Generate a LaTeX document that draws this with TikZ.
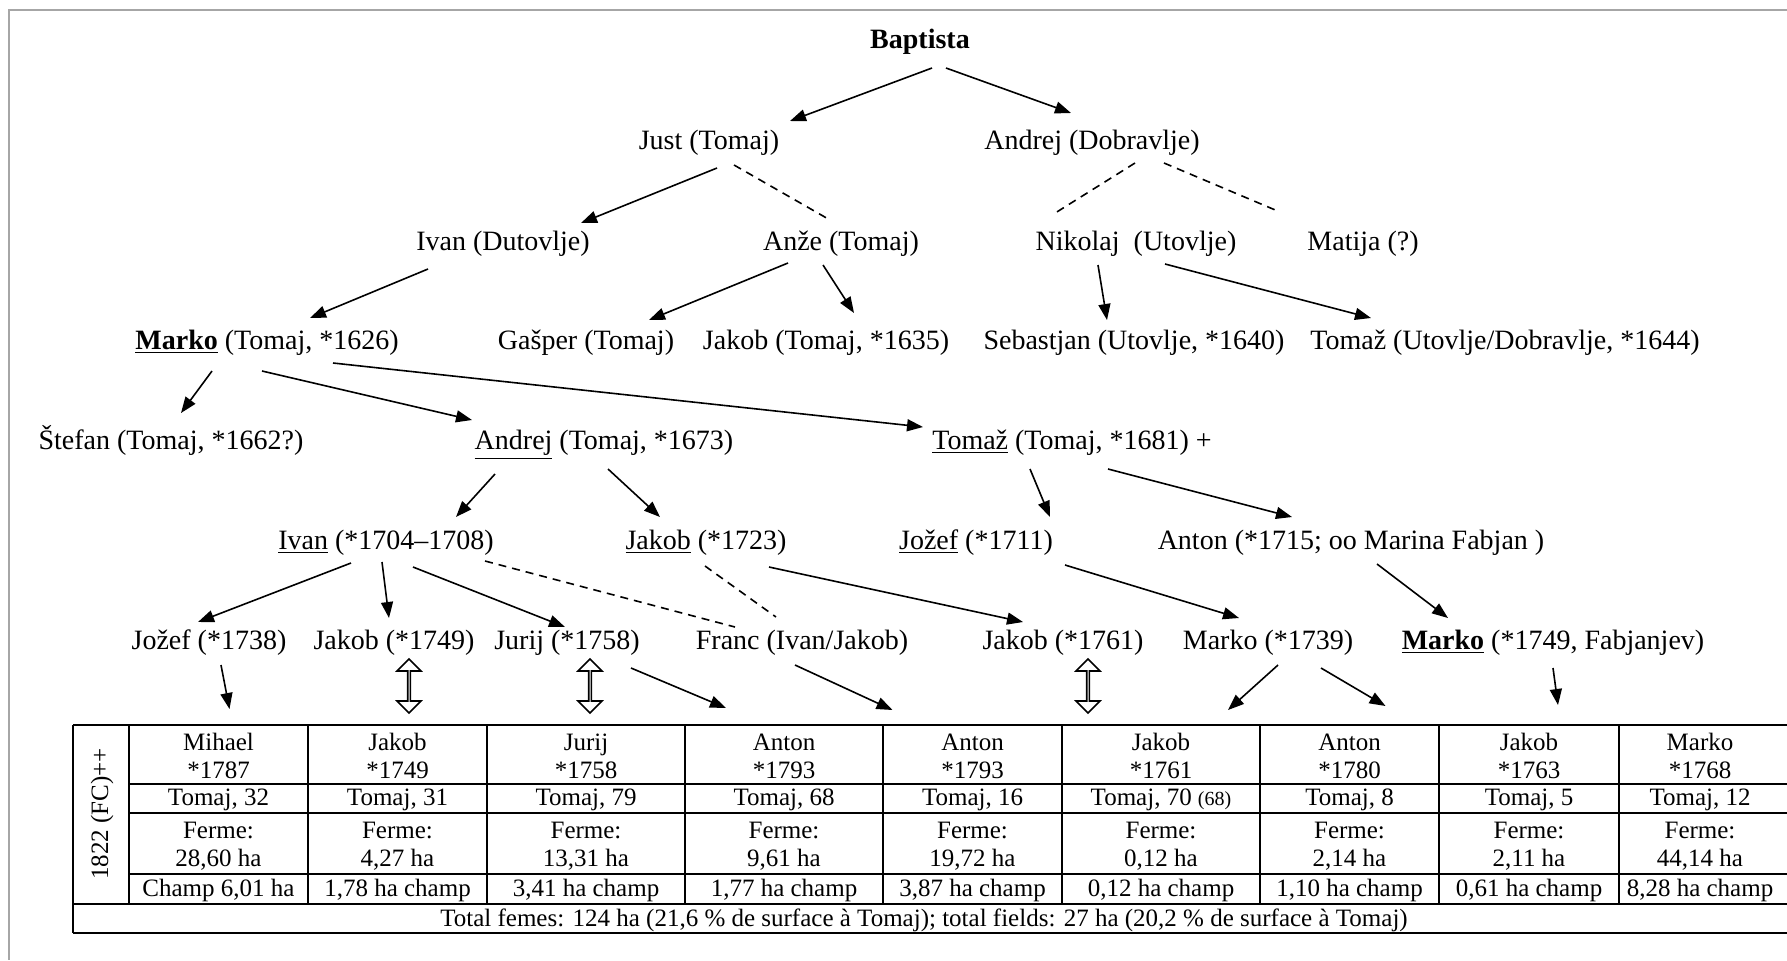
\documentclass[tikz,border=0pt]{standalone}
\usepackage{fontspec}
\setmainfont{Liberation Serif}
\usetikzlibrary{calc}
\usetikzlibrary{arrows.meta}
\usetikzlibrary{shapes.arrows}

\tikzset{
  pers/.style={inner sep=1pt, text height=2ex, text depth=.1ex, font=\fontsize{14}{16}\selectfont},
  kid/.style={-{Triangle[length=8pt,width=6pt]}, line width=0.8pt},
  maybe/.style={line width=0.8pt, dash pattern=on 4pt off 3pt},
  cell/.style={inner sep=0pt, align=center, font=\fontsize{12.5}{14}\selectfont},
  twoway/.style={draw, line width=0.8pt, double arrow, rotate=90, inner sep=0pt,
    minimum height=27pt, minimum width=12pt, double arrow head extend=3.3pt}
}

\begin{document}
\begin{tikzpicture}[x=0.5pt, y=-0.5pt]
\useasboundingbox (0,0) rectangle (1787,960);

\draw[gray!70, line width=1pt] (1787,9.5)--(9,9.5)--(9,960);

\node[pers] (bapt) at (920,40) {\textbf{Baptista}};

\node[pers] (just) at (709,141) {Just (Tomaj)};
\node[pers] (andD) at (1092,141) {Andrej (Dobravlje)};

\node[pers] (ivanD) at (503,242) {Ivan (Dutovlje)};
\node[pers] (anze) at (841,242) {Anže (Tomaj)};
\node[pers] (nikolaj) at (1136,242) {Nikolaj\ \ (Utovlje)};
\node[pers] (matija) at (1363,242) {Matija (?)};

\node[pers] (marko) at (267,341) {\textbf{\underline{Marko}} (Tomaj, *1626)};
\node[pers] (gasper) at (586,341) {Gašper (Tomaj)};
\node[pers] (jakobA) at (826,341) {Jakob (Tomaj, *1635)};
\node[pers] (sebastjan) at (1134,341) {Sebastjan (Utovlje, *1640)};
\node[pers] (tomazU) at (1505,341) {Tomaž (Utovlje/Dobravlje, *1644)};

\node[pers] (stefan) at (171,441) {Štefan (Tomaj, *1662?)};
\node[pers] (andrejT) at (604,441) {\underline{Andrej} (Tomaj, *1673)};
\node[pers] (tomazT) at (1072,441) {\underline{Tomaž} (Tomaj, *1681) +};

\node[pers] (ivanT) at (386,541) {\underline{Ivan} (*1704--1708)};
\node[pers] (jakobB) at (706,541) {\underline{Jakob} (*1723)};
\node[pers] (jozefA) at (976,541) {\underline{Jožef} (*1711)};
\node[pers] (anton) at (1351,541) {Anton (*1715; oo Marina Fabjan )};

\node[pers] (jozefB) at (209,641) {Jožef (*1738)};
\node[pers] (jakobC) at (394,641) {Jakob (*1749)};
\node[pers] (jurij) at (567,641) {Jurij (*1758)};
\node[pers] (franc) at (802,641) {Franc (Ivan/Jakob)};
\node[pers] (jakobD) at (1063,641) {Jakob (*1761)};
\node[pers] (markoB) at (1268,641) {Marko (*1739)};
\node[pers] (markoC) at (1553,641) {\textbf{\underline{Marko}} (*1749, Fabjanjev)};

\draw[kid] ($(bapt)+(12,28)$) -- ($(just)+(81,-20)$);
\draw[kid] ($(bapt)+(26,28)$) -- ($(andD)+(-21,-28)$);
\draw[kid] ($(just)+(8,27)$) -- ($(ivanD)+(78,-19)$);
\draw[maybe] ($(just)+(25,24)$) -- ($(anze)+(-11,-22)$);
\draw[maybe] ($(andD)+(43,22)$) -- ($(nikolaj)+(-84,-27)$);
\draw[maybe] ($(andD)+(72,22)$) -- ($(matija)+(-83,-30)$);

\draw[kid] ($(ivanD)+(-75,27)$) -- ($(marko)+(43,-23)$);
\draw[kid] ($(anze)+(-53,21)$) -- ($(gasper)+(63,-21)$);
\draw[kid] ($(anze)+(-18,23)$) -- ($(jakobA)+(28,-28)$);
\draw[kid] ($(nikolaj)+(-38,23)$) -- ($(sebastjan)+(-27,-21)$);
\draw[kid] ($(nikolaj)+(29,22)$) -- ($(tomazU)+(-134,-23)$);

\draw[kid] ($(marko)+(-55,30)$) -- ($(stefan)+(10,-28)$);
\draw[kid] ($(marko)+(-5,30)$) -- ($(andrejT)+(-132,-21)$);
\draw[kid] ($(marko)+(66,22)$) -- ($(tomazT)+(-149,-14)$);

\draw[kid] ($(andrejT)+(-109,33)$) -- ($(ivanT)+(70,-24)$);
\draw[kid] ($(andrejT)+(4,28)$) -- ($(jakobB)+(-46,-24)$);
\draw[kid] ($(tomazT)+(-42,28)$) -- ($(jozefA)+(74,-24)$);
\draw[kid] ($(tomazT)+(36,28)$) -- ($(anton)+(-59,-24)$);

\draw[kid] ($(ivanT)+(-35,22)$) -- ($(jozefB)+(-11,-19)$);
\draw[kid] ($(ivanT)+(-4,21)$) -- ($(jakobC)+(-5,-23)$);
\draw[kid] ($(ivanT)+(27,26)$) -- ($(jurij)+(-2,-14)$);
\draw[maybe] ($(ivanT)+(99,20)$) -- ($(franc)+(-67,-14)$);
\draw[maybe] ($(jakobB)+(-1,25)$) -- ($(franc)+(-26,-24)$);
\draw[kid] ($(jakobB)+(63,26)$) -- ($(jakobD)+(-40,-19)$);
\draw[kid] ($(jozefA)+(89,24)$) -- ($(markoB)+(-29,-23)$);
\draw[kid] ($(anton)+(26,23)$) -- ($(markoC)+(-105,-23)$);

% table 1822
\draw[line width=0.75pt] (73,725)--(1787,725);
\draw[line width=0.75pt] (129,784)--(1787,784);
\draw[line width=0.75pt] (129,813)--(1787,813);
\draw[line width=0.75pt] (129,874)--(1787,874);
\draw[line width=0.75pt] (73,904)--(1787,904);
\draw[line width=0.75pt] (73,933)--(1787,933);

\draw[line width=0.75pt] (73,725)--(73,933);
\draw[line width=0.75pt] (129,725)--(129,904);
\draw[line width=0.75pt] (308,725)--(308,904);
\draw[line width=0.75pt] (487,725)--(487,904);
\draw[line width=0.75pt] (685,725)--(685,904);
\draw[line width=0.75pt] (883,725)--(883,904);
\draw[line width=0.75pt] (1062,725)--(1062,904);
\draw[line width=0.75pt] (1260,725)--(1260,904);
\draw[line width=0.75pt] (1439,725)--(1439,904);
\draw[line width=0.75pt] (1619,725)--(1619,904);

\node[cell, rotate=90] (year) at (102,814) {1822 (FC)++};

\foreach \i/\x/\nm/\yr/\tm/\fe/\ch in {
  1/218.5/Mihael/1787/{Tomaj, 32}/{28,60 ha}/{Champ 6,01 ha},
  2/397.5/Jakob/1749/{Tomaj, 31}/{4,27 ha}/{1,78 ha champ},
  3/586/Jurij/1758/{Tomaj, 79}/{13,31 ha}/{3,41 ha champ},
  4/784/Anton/1793/{Tomaj, 68}/{9,61 ha}/{1,77 ha champ},
  5/972.5/Anton/1793/{Tomaj, 16}/{19,72 ha}/{3,87 ha champ},
  6/1161/Jakob/1761/{Tomaj, 70 {\fontsize{10}{12}\selectfont(68)}}/{0,12 ha}/{0,12 ha champ},
  7/1349.5/Anton/1780/{Tomaj, 8}/{2,14 ha}/{1,10 ha champ},
  8/1529/Jakob/1763/{Tomaj, 5}/{2,11 ha}/{0,61 ha champ},
  9/1700/Marko/1768/{Tomaj, 12}/{44,14 ha}/{8,28 ha champ}} {
  \node[cell] (nm\i) at (\x,756) {\nm\\*\yr};
  \node[cell] (tm\i) at (\x,800) {\tm};
  \node[cell] (fe\i) at (\x,846) {Ferme:\\\fe};
  \node[cell] (ch\i) at (\x,890) {\ch};
}

\node[cell] (total) at (924,920) {Total femes: 124 ha (21,6 \% de surface à Tomaj); total fields: 27 ha (20,2 \% de surface à Tomaj)};

\draw[kid] ($(jozefB)+(12,24)$) -- ($(nm1)+(11,-47)$);
\node[twoway] (same2) at ($(jakobC)+(15,45)$) {};
\node[twoway] (same3) at ($(jurij)+(23,45)$) {};
\draw[kid] ($(jurij)+(64,27)$) -- ($(nm4)+(-58,-48)$);
\draw[kid] ($(franc)+(-7,24)$) -- ($(nm5)+(-80,-46)$);
\node[twoway] (same6) at ($(jakobD)+(25,45)$) {};
\draw[kid] ($(markoB)+(10,24)$) -- ($(nm6)+(67,-46)$);
\draw[kid] ($(markoB)+(53,27)$) -- ($(nm7)+(36,-50)$);
\draw[kid] ($(markoC)+(0,27)$) -- ($(nm8)+(29,-51)$);
\end{tikzpicture}
\end{document}
